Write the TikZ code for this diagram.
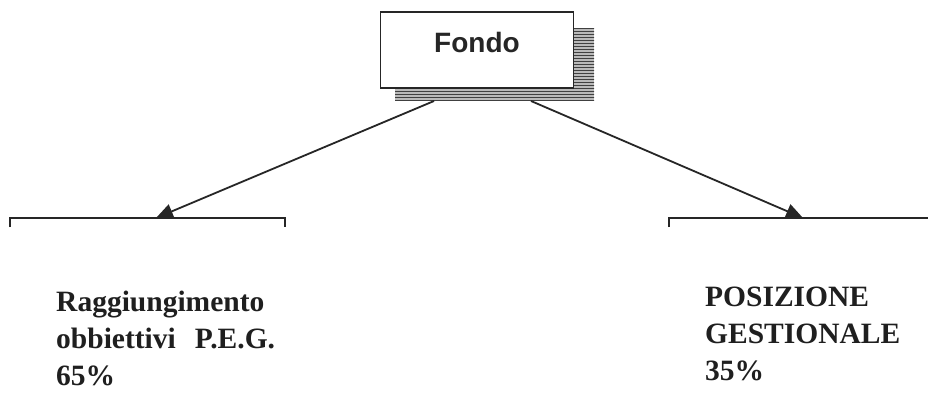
\documentclass[tikz,border=0pt]{standalone}
\usepackage{fontspec}
\setmainfont{Liberation Serif}
\newfontfamily\arialfont{Liberation Sans}
\usetikzlibrary{arrows.meta,patterns}
\begin{document}
\begin{tikzpicture}[x=1pt,y=-1pt,
  boxline/.style={draw=black!85,line width=1.4pt},
  connector/.style={draw=black!85,line width=1.8pt,-{Triangle[length=17pt,width=15pt]}},
  label/.style={anchor=north west,inner sep=0pt,align=left,text=black!88,
     font=\bfseries\fontsize{29.5}{36.7}\selectfont}]
\useasboundingbox[fill=white] (0,0) rectangle (928,392);
% shadow
\fill[gray!55] (395,28) rectangle (594,100);
\fill[pattern=horizontal lines,pattern color=black!75] (395,28) rectangle (594,100);
% Fondo box
\node[boxline,fill=white,minimum width=193pt,minimum height=76pt,inner sep=0pt,
      text depth=16pt,
      font=\arialfont\bfseries\fontsize{28}{30}\selectfont,text=black!85] (fondo) at (477,50) {Fondo};
\coordinate (ls) at (434,101);
\coordinate (rs) at (531,101);
% lower boxes (open at bottom)
\draw[boxline] (10,227) |- (285,218) -- (285,227);
\draw[boxline] (669,227) |- (940,218);
\coordinate (lt) at (156,218);
\coordinate (rt) at (803,218);
\draw[connector] (ls) -- (lt);
\draw[connector] (rs) -- (rt);
% labels
\node[label] (peg) at (56,291) {Raggiungimento\\obbiettivi\hspace{0.65em}P.E.G.\\65\%};
\node[label] (pos) at (705,287) {POSIZIONE\\GESTIONALE\\35\%};
\end{tikzpicture}
\end{document}
